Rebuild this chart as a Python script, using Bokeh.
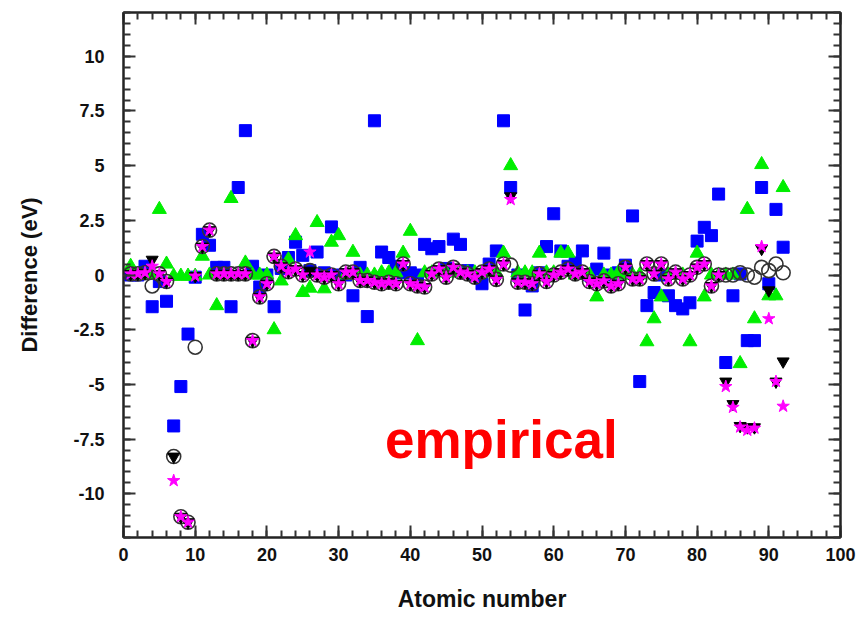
from bokeh.plotting import figure
from bokeh.models import (Range1d, LinearAxis, SingleIntervalTicker,
                          CustomJSTickFormatter, Label)
from bokeh.embed import file_html
from bokeh.resources import INLINE

# ---------------- data ----------------
atomic_number = list(range(1, 93))

blue_squares = [
    0.0, 0.0, 0.4, -1.45, -0.3, -1.2, -6.9, -5.1, -2.7, -0.1,
    1.86, 1.36, 0.35, 0.35, -1.45, 4.0, 6.6, 0.4, -0.55, 0.0,
    -1.45, 0.3, 0.8, 1.5, 0.9, 0.2, 1.05, 0.1, 2.2, 0.0,
    0.0, -0.95, 0.35, -1.9, 7.05, 1.05, 0.8, 0.4, 0.1, 0.1,
    0.0, 1.4, 1.2, 1.3, 0.3, 1.64, 1.4, 0.2, 0.0, -0.4,
    0.5, 1.1, 7.05, 4.0, 0.0, -1.6, -0.5, 0.1, 1.3, 2.8,
    1.1, 0.4, 0.55, 1.1, 0.0, 0.27, 1.0, 0.0, 0.1, 0.45,
    2.7, -4.87, -1.4, -0.8, 0.0, -0.95, -1.4, -1.55, -1.27, 1.55,
    2.18, 1.8, 3.7, -4.0, -0.95, 0.05, -3.0, -3.0, 4.0, -0.4,
    3.0, 1.27,
]

green_triangles = [
    0.4, 0.0, 0.0, 0.0, 3.0, 0.5, -0.05, -0.05, -0.05, -0.05,
    0.86, 0.0, -1.4, 0.0, 3.5, 0.0, 0.55, 0.0, 0.0, 0.0,
    -2.5, -0.27, 0.7, 1.8, -0.8, -0.6, 2.4, -0.63, 1.5, 1.8,
    0.0, 1.04, 0.0, 0.0, 0.0, 0.1, 0.1, 0.1, 1.0, 2.0,
    -3.0, 0.1, 0.1, 0.1, 0.1, 0.1, 0.1, 0.1, 0.1, 0.1,
    0.1, 0.1, 1.0, 5.0, 0.1, 0.1, 0.1, 1.0, 0.1, 0.1,
    1.0, 1.0, 0.0, 0.0, 0.0, -1.0, 0.0, 0.0, 0.1, 0.0,
    0.0, 0.0, -3.05, -2.0, -1.0, 0.0, 0.0, 0.0, -3.05, 1.0,
    -1.0, 0.0, 0.0, 0.0, 0.0, -4.05, 3.0, -2.0, 5.05, -0.95,
    -0.95, 4.0,
]

magenta_stars = [
    0.05, 0.05, 0.1, 0.4, 0.05, -0.3, -9.4, -11.05, -11.3, -0.05,
    1.3, 2.05, 0.05, 0.05, 0.05, 0.05, 0.05, -3.0, -1.0, -0.4,
    0.85, 0.4, 0.15, 0.27, 0.0, 1.05, 0.0, -0.1, 0.0, -0.4,
    0.13, 0.13, -0.25, -0.25, -0.33, -0.4, -0.33, -0.4, 0.5, -0.4,
    -0.5, -0.55, 0.05, 0.27, -0.1, 0.35, 0.13, 0.05, -0.1, 0.13,
    0.27, -0.2, 0.5, 3.45, -0.33, -0.33, -0.4, 0.05, -0.3, 0.0,
    0.13, 0.27, 0.05, 0.13, -0.3, -0.4, -0.27, -0.5, -0.4, 0.35,
    -0.18, -0.18, 0.5, 0.05, 0.5, -0.18, 0.13, -0.18, 0.0, 0.35,
    0.5, -0.5, 0.0, -5.1, -6.05, -6.95, -7.1, -7.0, 1.3, -2.0,
    -4.87, -6.0,
]

black_down_triangles = [
    0.05, 0.05, 0.1, 0.7, 0.05, -0.3, -8.3, -11.05, -11.3, -0.05,
    1.3, 2.05, 0.05, 0.05, 0.05, 0.05, 0.05, -3.0, -1.0, -0.4,
    0.85, 0.4, 0.15, 0.27, 0.0, 0.2, 0.0, -0.1, 0.0, -0.4,
    0.13, 0.13, -0.25, -0.25, -0.33, -0.4, -0.33, -0.4, 0.5, -0.4,
    -0.5, -0.55, 0.05, 0.27, -0.1, 0.35, 0.13, 0.05, -0.1, 0.13,
    0.27, -0.2, 0.5, 3.6, -0.33, -0.33, -0.4, 0.05, -0.3, 0.0,
    0.13, 0.27, 0.05, 0.13, -0.3, -0.4, -0.27, -0.5, -0.4, 0.35,
    -0.18, -0.18, 0.5, 0.05, 0.5, -0.18, 0.13, -0.18, 0.0, 0.35,
    0.5, -0.5, 0.0, -4.87, -5.9, -6.9, -6.96, -6.96, 1.2, -0.7,
    -4.87, -3.95,
]

open_circles = [
    0.05, 0.05, 0.1, -0.5, 0.05, -0.3, -8.3, -11.05, -11.3, -3.3,
    1.3, 2.05, 0.05, 0.05, 0.05, 0.05, 0.05, -3.0, -1.0, -0.4,
    0.85, 0.4, 0.15, 0.27, 0.0, 0.2, 0.0, -0.1, 0.0, -0.4,
    0.13, 0.13, -0.25, -0.25, -0.33, -0.4, -0.33, -0.4, 0.5, -0.4,
    -0.5, -0.55, 0.05, 0.27, -0.1, 0.35, 0.13, 0.05, -0.1, 0.13,
    0.27, -0.2, 0.5, 0.45, -0.33, -0.33, -0.4, 0.05, -0.3, 0.0,
    0.13, 0.27, 0.05, 0.13, -0.3, -0.4, -0.27, -0.5, -0.4, 0.35,
    -0.18, -0.18, 0.5, 0.05, 0.5, -0.18, 0.13, -0.18, 0.0, 0.35,
    0.5, -0.5, 0.0, 0.0, 0.0, 0.1, 0.0, -0.1, 0.35, 0.2,
    0.5, 0.1,
]

x_title = "Atomic number"
y_title = "Difference (eV)"
annotation = "empirical"

# ---------------- figure ----------------
FONT = "Liberation Sans"
p = figure(width=857, height=614,
           min_border_left=123, min_border_right=17,
           min_border_top=12, min_border_bottom=74,
           x_range=Range1d(0, 100), y_range=Range1d(-12, 12),
           x_axis_type=None, y_axis_type=None,
           output_backend="svg", toolbar_location=None)
p.outline_line_color = "#222222"
p.outline_line_width = 2
p.background_fill_color = "white"
p.border_fill_color = "white"

fmt = CustomJSTickFormatter(code="return tick.toString();")
blank_fmt = CustomJSTickFormatter(code="return '';")


def make_axis(interval, labels, title=None):
    ax = LinearAxis(
        ticker=SingleIntervalTicker(interval=interval, num_minor_ticks=5),
        formatter=fmt if labels else blank_fmt,
        major_tick_in=12, major_tick_out=0,
        minor_tick_in=7, minor_tick_out=0,
        major_tick_line_width=2, minor_tick_line_width=2,
        major_tick_line_color="#333333", minor_tick_line_color="#333333",
        axis_line_color="#222222", axis_line_width=2,
    )
    if labels:
        ax.major_label_text_font = FONT
        ax.major_label_text_font_style = "bold"
        ax.major_label_text_font_size = "18px"
        ax.major_label_text_color = "#111111"
        ax.axis_label = title
        ax.axis_label_text_font = FONT
        ax.axis_label_text_font_style = "bold"
        ax.axis_label_text_color = "#111111"
    else:
        ax.major_label_standoff = 0
    return ax


xb = make_axis(10, True, x_title)
xb.major_label_standoff = 10
xb.axis_label_standoff = 22
xb.axis_label_text_font_size = "23px"
yl = make_axis(2.5, True, y_title)
yl.major_label_standoff = 19
yl.axis_label_standoff = 28
yl.axis_label_text_font_size = "22px"
p.add_layout(xb, "below")
p.add_layout(yl, "left")
p.add_layout(make_axis(10, False), "above")
p.add_layout(make_axis(2.5, False), "right")

# ---------------- series ----------------
p.scatter(atomic_number, blue_squares, marker="square", size=12,
          fill_color="#0000ff", line_color="#0000ff")
p.scatter(atomic_number, green_triangles, marker="triangle", size=14,
          fill_color="#00ee00", line_color="#00ee00")
p.scatter(atomic_number, open_circles, marker="circle", size=14,
          fill_color=None, line_color="#333333", line_width=1.6)
p.scatter(atomic_number, black_down_triangles, marker="inverted_triangle",
          size=12, fill_color="black", line_color="black")
p.scatter(atomic_number, magenta_stars, marker="star", size=13,
          fill_color="#ff00ff", line_color="#ff00ff")

p.add_layout(Label(x=52.7, y=-7.5, text=annotation, text_color="#ff0000",
                   text_font=FONT, text_font_style="bold",
                   text_font_size="53px", text_align="center",
                   text_baseline="alphabetic"))

open("out.html", "w").write(file_html(p, INLINE))
